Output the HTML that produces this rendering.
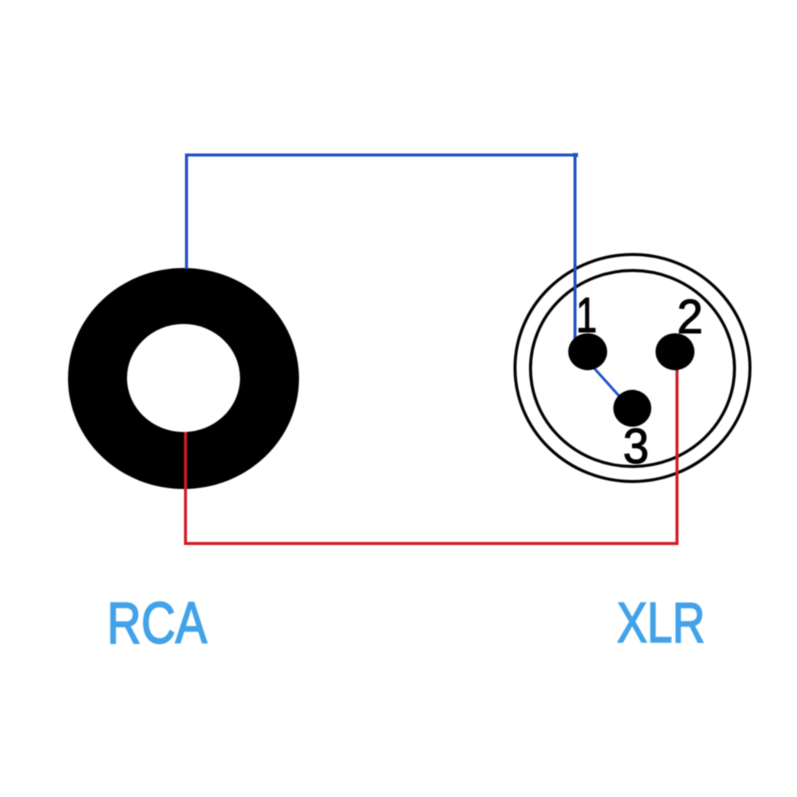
<!DOCTYPE html>
<html>
<head>
<meta charset="utf-8">
<style>
html,body{margin:0;padding:0;background:#fff;width:797px;height:797px;overflow:hidden}
svg{display:block;filter:blur(.4px)}
text{font-family:"Liberation Sans",sans-serif}
</style>
</head>
<body>
<svg width="797" height="797" viewBox="0 0 797 797" xmlns="http://www.w3.org/2000/svg">
<rect width="797" height="797" fill="#fff"/>
<!-- RCA ring -->
<ellipse cx="183.5" cy="378.5" rx="115.5" ry="110.5" fill="#000"/>
<ellipse cx="183.5" cy="378" rx="56.5" ry="54" fill="#fff"/>
<!-- XLR -->
<ellipse cx="632.5" cy="368" rx="117.5" ry="113.5" fill="none" stroke="#000" stroke-width="3"/>
<ellipse cx="632.5" cy="368.5" rx="102" ry="98" fill="none" stroke="#000" stroke-width="3"/>
<!-- wires -->
<path d="M186.500 269V155H575V342" fill="none" stroke="#1f4fc8" stroke-width="3"/>
<rect x="573" y="153" width="5" height="4" fill="#1f4fc8"/>
<path d="M594 368L620 397" fill="none" stroke="#1f4fc8" stroke-width="2.6"/>
<path d="M185.500 432V543.500H677V368" fill="none" stroke="#d01c24" stroke-width="3"/>
<!-- pins -->
<ellipse cx="587.700" cy="351.700" rx="19.500" ry="18.500" fill="#000"/>
<ellipse cx="675" cy="351.700" rx="19.500" ry="18.500" fill="#000"/>
<ellipse cx="632.300" cy="408.300" rx="19" ry="18.500" fill="#000"/>
<!-- pin numbers -->
<text x="576" y="332" font-size="49" textLength="21" lengthAdjust="spacingAndGlyphs" fill="#000" stroke="#000" stroke-width="1">1</text>
<text x="677" y="333" font-size="48" textLength="26" lengthAdjust="spacingAndGlyphs" fill="#000" stroke="#000" stroke-width="1">2</text>
<text x="623" y="463" font-size="49" textLength="26" lengthAdjust="spacingAndGlyphs" fill="#000" stroke="#000" stroke-width="1">3</text>
<!-- labels -->
<text x="107" y="643" font-size="58" textLength="100" lengthAdjust="spacingAndGlyphs" fill="#42a2e8" stroke="#42a2e8" stroke-width="1.5">RCA</text>
<text x="617" y="642" font-size="57" textLength="88" lengthAdjust="spacingAndGlyphs" fill="#42a2e8" stroke="#42a2e8" stroke-width="1.5">XLR</text>
</svg>
</body>
</html>
